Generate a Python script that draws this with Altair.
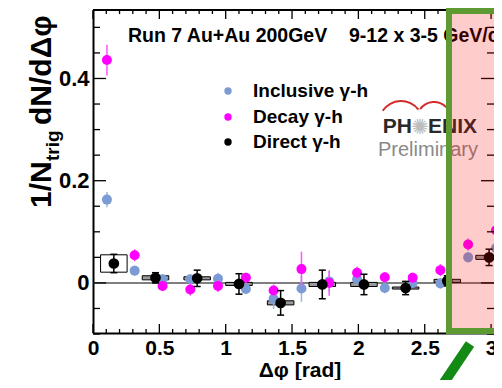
import altair as alt
import pandas as pd

W, H = 401, 323
FONT = "Liberation Sans"

# ---- data ----
incl_x = [0.105, 0.314, 0.524, 0.733, 0.942, 1.152, 1.361, 1.571, 1.780, 1.990, 2.199, 2.409, 2.618, 2.827, 3.037]
incl_y = [0.163, 0.024, 0.007, 0.007, 0.008, -0.012, -0.031, -0.011, 0.003, 0.007, -0.010, 0.000, -0.001, 0.050, 0.068]
incl_err = [0.015, 0.010, 0.010, 0.010, 0.012, 0.010, 0.020, 0.026, 0.020, 0.010, 0.010, 0.010, 0.010, 0.010, 0.012]

decay_x = incl_x
decay_y = [0.436, 0.054, -0.006, -0.013, -0.006, 0.010, -0.015, 0.027, 0.000, 0.020, 0.011, 0.010, 0.025, 0.075, 0.103]
decay_err = [0.030, 0.012, 0.010, 0.012, 0.012, 0.010, 0.012, 0.034, 0.025, 0.012, 0.010, 0.010, 0.012, 0.012, 0.012]

direct_x = [0.157, 0.471, 0.785, 1.100, 1.414, 1.728, 2.042, 2.356, 2.670, 2.985]
direct_y = [0.038, 0.010, 0.009, -0.002, -0.039, -0.003, -0.003, -0.010, 0.004, 0.050]
direct_err = [0.018, 0.010, 0.016, 0.020, 0.024, 0.028, 0.020, 0.013, 0.010, 0.016]
direct_sys = [0.017, 0.004, 0.003, 0.003, 0.004, 0.004, 0.004, 0.002, 0.003, 0.004]
direct_halfwidth = 0.1

x_major = [0, 0.5, 1, 1.5, 2, 2.5, 3]
x_minor = [0.1, 0.2, 0.3, 0.4, 0.6, 0.7, 0.8, 0.9, 1.1, 1.2, 1.3, 1.4, 1.6, 1.7, 1.8, 1.9,
           2.1, 2.2, 2.3, 2.4, 2.6, 2.7, 2.8, 2.9, 3.0]
y_major = [0, 0.2, 0.4]
y_minor = [-0.1, -0.05, 0.05, 0.1, 0.15, 0.25, 0.3, 0.35, 0.45, 0.5]

legend_labels = ["Inclusive γ-h", "Decay γ-h", "Direct γ-h"]
C_INCL, C_DECAY, C_DIRECT = "#7b9bd5", "#ff00ff", "#000000"

xs = alt.Scale(domain=[0, 3.022], nice=False, zero=False)
ys = alt.Scale(domain=[-0.098, 0.534], nice=False, zero=False)

axis_common = dict(ticks=False, grid=False, domainColor="black", domainWidth=2,
                   labelFont=FONT, labelFontWeight="bold", labelColor="black", labelFontSize=21,
                   labelFlush=False, labelOverlap=False, format="~g", title=None)
x_axis = alt.Axis(values=x_major, labelPadding=4, **axis_common)
y_axis = alt.Axis(values=y_major, labelPadding=4, labelFontSize=22,
                  **{k: v for k, v in axis_common.items() if k != "labelFontSize"})

X = lambda f: alt.X(f, scale=xs, axis=x_axis)
Y = lambda f: alt.Y(f, scale=ys, axis=y_axis)

incl = pd.DataFrame({"x": incl_x, "y": incl_y, "lo": [a - b for a, b in zip(incl_y, incl_err)],
                     "hi": [a + b for a, b in zip(incl_y, incl_err)]})
dec = pd.DataFrame({"x": decay_x, "y": decay_y, "lo": [a - b for a, b in zip(decay_y, decay_err)],
                    "hi": [a + b for a, b in zip(decay_y, decay_err)]})
dirc = pd.DataFrame({"x": direct_x, "y": direct_y,
                     "lo": [a - b for a, b in zip(direct_y, direct_err)],
                     "hi": [a + b for a, b in zip(direct_y, direct_err)],
                     "bx0": [a - direct_halfwidth for a in direct_x],
                     "bx1": [a + direct_halfwidth for a in direct_x],
                     "by0": [a - b for a, b in zip(direct_y, direct_sys)],
                     "by1": [a + b for a, b in zip(direct_y, direct_sys)],
                     "fill": ["white"] + ["#9a9a9a"] * (len(direct_x) - 1)})

# frame axes (bottom + left) carried by an invisible layer
frame = alt.Chart(pd.DataFrame({"x": [0.0], "y": [0.0]})).mark_point(opacity=0).encode(x=X("x:Q"), y=Y("y:Q"))

zero = alt.Chart(pd.DataFrame({"y": [0.0]})).mark_rule(color="#555555", strokeWidth=1.5).encode(
    y=Y("y:Q"), x=alt.value(0), x2=alt.value(W))

boxes = alt.Chart(dirc).mark_rect(stroke="black", strokeWidth=1).encode(
    x=X("bx0:Q"), x2="bx1:Q", y=Y("by0:Q"), y2="by1:Q", fill=alt.Fill("fill:N", scale=None))

incl_err_l = alt.Chart(incl).mark_rule(color="#9db3e2", strokeWidth=1.5).encode(x=X("x:Q"), y=Y("lo:Q"), y2="hi:Q")
incl_pt = alt.Chart(incl).mark_circle(size=100, color=C_INCL, opacity=1).encode(x=X("x:Q"), y=Y("y:Q"))
dec_err_l = alt.Chart(dec).mark_rule(color="#ff55ff", strokeWidth=1.5).encode(x=X("x:Q"), y=Y("lo:Q"), y2="hi:Q")
dec_pt = alt.Chart(dec).mark_circle(size=100, color=C_DECAY, opacity=1).encode(x=X("x:Q"), y=Y("y:Q"))
dir_err_l = alt.Chart(dirc).mark_rule(color="black", strokeWidth=1.5).encode(x=X("x:Q"), y=Y("lo:Q"), y2="hi:Q")
dir_cap_lo = alt.Chart(dirc).mark_tick(orient="horizontal", size=7, thickness=1.5, color="black", opacity=1).encode(x=X("x:Q"), y=Y("lo:Q"))
dir_cap_hi = alt.Chart(dirc).mark_tick(orient="horizontal", size=7, thickness=1.5, color="black", opacity=1).encode(x=X("x:Q"), y=Y("hi:Q"))
dir_pt = alt.Chart(dirc).mark_circle(size=115, color=C_DIRECT, opacity=1).encode(x=X("x:Q"), y=Y("y:Q"))


def txt(s, x, y, size, weight="bold", color="black", align="left", baseline="alphabetic", angle=None, font=FONT):
    kw = dict(fontSize=size, fontWeight=weight, color=color, align=align, baseline=baseline, font=font)
    if angle is not None:
        kw["angle"] = angle
    return alt.Chart(pd.DataFrame({"t": [s]})).mark_text(**kw).encode(
        text="t:N", x=alt.value(x), y=alt.value(y))


def dot(x, y, c):
    return alt.Chart(pd.DataFrame({"a": [0]})).mark_circle(size=55, color=c, opacity=1).encode(
        x=alt.value(x), y=alt.value(y))


legend = [dot(135, 81, C_INCL), dot(135, 107, C_DECAY), dot(135, 132, C_DIRECT),
          txt(legend_labels[0], 160, 81, 19, baseline="middle"),
          txt(legend_labels[1], 160, 107, 19, baseline="middle"),
          txt(legend_labels[2], 160, 132, 19, baseline="middle")]

texts = [txt("Run 7 Au+Au 200GeV", 35, 32, 19.5),
         txt("9-12 x 3-5 GeV/c", 256, 32, 19.5),
         txt("Δφ [rad]", 207, 367, 21, align="center"),
         txt("1/N", -42, 198, 30, angle=270),
         txt("trig", -34, 151, 19, angle=270),
         txt("dN/dΔφ", -42, 115, 30, angle=270)]

logo = [
    alt.Chart(pd.DataFrame({"a": [0]})).mark_arc(radius=23, radius2=21, theta=5.3, theta2=7.2, color="#d62a2a").encode(
        x=alt.value(308), y=alt.value(113)),
    alt.Chart(pd.DataFrame({"a": [0]})).mark_arc(radius=18, radius2=16, theta=5.33, theta2=7.1, color="#d62a2a").encode(
        x=alt.value(341), y=alt.value(109)),
    txt("PH", 319, 123, 21, color="#2a2a2a", align="right"),
    txt("✺", 327, 124, 21, weight="normal", color="#bdbdbd", align="center", font="DejaVu Sans"),
    txt("ENIX", 335, 123, 21, color="#2a2a2a"),
    txt("Preliminary", 335, 146, 20, weight="normal", color="#8a8a8a", align="center"),
]


def xticks(vals, y0, y1):
    return alt.Chart(pd.DataFrame({"v": vals})).mark_rule(color="black", strokeWidth=1.3).encode(
        x=X("v:Q"), y=alt.value(y0), y2=alt.value(y1))


def yticks(vals, x0, x1):
    return alt.Chart(pd.DataFrame({"v": vals})).mark_rule(color="black", strokeWidth=1.3).encode(
        y=Y("v:Q"), x=alt.value(x0), x2=alt.value(x1))


ticks = [xticks(x_major, H, H - 9), xticks(x_minor, H, H - 4),
         xticks(x_major, 0, 9), xticks(x_minor, 0, 4),
         yticks(y_major, 0, 13), yticks(y_minor, 0, 7),
         yticks(y_major, W, W - 13), yticks(y_minor, W, W - 7)]

top_frame = alt.Chart(pd.DataFrame({"a": [0]})).mark_rule(color="black", strokeWidth=2).encode(
    x=alt.value(0), x2=alt.value(W), y=alt.value(0))

pink = alt.Chart(pd.DataFrame({"a": [0]})).mark_rect(color="#ff0000", opacity=0.2).encode(
    x=alt.value(356), x2=alt.value(440), y=alt.value(1), y2=alt.value(H - 2))
green = alt.Chart(pd.DataFrame({"a": [0]})).mark_rect(filled=False, stroke="#5d9b32", strokeWidth=6).encode(
    x=alt.value(356), x2=alt.value(440), y=alt.value(1), y2=alt.value(H - 2))
slash = alt.Chart(pd.DataFrame({"a": [0]})).mark_rule(color="#138a13", strokeWidth=10).encode(
    x=alt.value(377), y=alt.value(334), x2=alt.value(344), y2=alt.value(383))

chart = alt.layer(
    frame, zero, boxes, incl_err_l, incl_pt, dec_err_l, dec_pt,
    dir_err_l, dir_cap_lo, dir_cap_hi, dir_pt,
    *legend, *texts, *logo, *ticks, top_frame, pink, green, slash
).properties(
    width=W, height=H,
    autosize=alt.AutoSizeParams(type="none"),
    padding={"left": 85, "top": 2, "right": 0, "bottom": 47},
    background="white",
).configure_view(stroke=None)

chart.save("out.html", embed_options={"renderer": "svg", "actions": False})
